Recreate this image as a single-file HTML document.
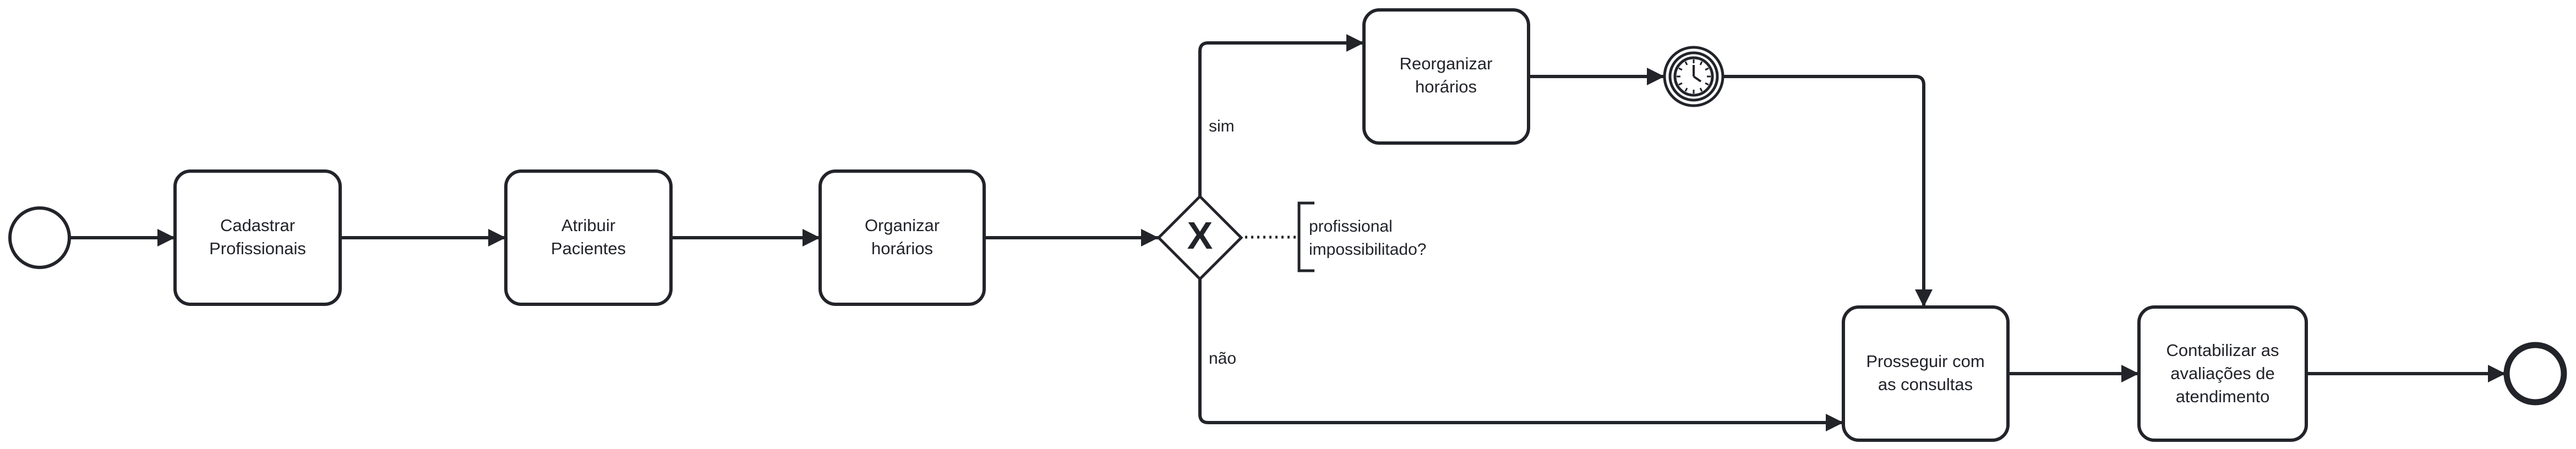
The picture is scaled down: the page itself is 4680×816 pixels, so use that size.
<!DOCTYPE html>
<html><head><meta charset="utf-8"><style>html,body{margin:0;padding:0;background:#fff}svg{display:block}</style></head><body>
<svg width="4680" height="816" viewBox="0 0 4680 816" xmlns="http://www.w3.org/2000/svg" font-family="Liberation Sans, Arial, sans-serif">
<defs><marker id="a" viewBox="0 0 10 10" refX="10" refY="5" markerWidth="32" markerHeight="34" markerUnits="userSpaceOnUse" orient="auto"><path d="M0,0 L10,5 L0,10 z" fill="#22242a"/></marker></defs>
<g fill="none" stroke="#22242a" stroke-width="6">
<circle cx="72" cy="432" r="54"/>
<rect x="318" y="311" width="300" height="242" rx="28"/>
<rect x="919" y="311" width="300" height="242" rx="28"/>
<rect x="1490" y="311" width="298" height="242" rx="28"/>
<rect x="2478" y="18" width="299" height="242" rx="28"/>
<rect x="3349" y="558" width="299" height="242" rx="28"/>
<rect x="3886" y="558" width="304" height="242" rx="28"/>
<circle cx="4606" cy="679" r="52" stroke-width="11"/>
<path d="M2180,357 L2255,432 L2180,507 L2105,432 z" stroke-width="5"/>
<circle cx="3077" cy="139" r="53" stroke-width="5"/>
<circle cx="3077" cy="139" r="43" stroke-width="5"/>
<circle cx="3077" cy="139" r="34" stroke-width="5"/>
</g>
<g fill="none" stroke="#22242a" stroke-width="6" marker-end="url(#a)">
<path d="M126,432 H318"/>
<path d="M618,432 H919"/>
<path d="M1219,432 H1490"/>
<path d="M1788,432 H2105"/>
<path d="M2180,357 V93 Q2180,78 2195,78 H2478"/>
<path d="M2777,139 H3024"/>
<path d="M3130,139 H3480 Q3495,139 3495,154 V558"/>
<path d="M2180,507 V753 Q2180,768 2195,768 H3349"/>
<path d="M3648,679 H3886"/>
<path d="M4190,679 H4552"/>
</g>
<g stroke="#22242a" stroke-width="3" fill="none">
<path d="M3077,139 L3077,118 M3077,139 L3090,148" stroke-width="4"/>
<path d="M3077,108 v7 M3077,170 v-7 M3046,139 h7 M3108,139 h-7 M3092,112 l-3,6 M3062,112 l3,6 M3092,166 l-3,-6 M3062,166 l3,-6 M3104,124 l-6,3 M3050,124 l6,3 M3104,154 l-6,-3 M3050,154 l6,-3"/>
</g>
<path d="M2262,431 H2356" stroke="#22242a" stroke-width="5" stroke-dasharray="4,7"/>
<path d="M2388,369 H2360 V492 H2388" fill="none" stroke="#22242a" stroke-width="5"/>
<text x="2180" y="452" font-size="70" font-weight="bold" text-anchor="middle" fill="#22242a">X</text>
<g font-size="31" fill="#22242a" text-anchor="middle">
<text x="468" y="420">Cadastrar</text><text x="468" y="462">Profissionais</text>
<text x="1069" y="420">Atribuir</text><text x="1069" y="462">Pacientes</text>
<text x="1639" y="420">Organizar</text><text x="1639" y="462">horários</text>
<text x="2627" y="126">Reorganizar</text><text x="2627" y="168">horários</text>
<text x="3498" y="667">Prosseguir com</text><text x="3498" y="709">as consultas</text>
<text x="4038" y="647">Contabilizar as</text><text x="4038" y="689">avaliações de</text><text x="4038" y="731">atendimento</text>
</g>
<g font-size="30" fill="#22242a">
<text x="2196" y="239">sim</text>
<text x="2196" y="661">não</text>
<text x="2378" y="421">profissional</text>
<text x="2378" y="463">impossibilitado?</text>
</g>
</svg>
</body></html>
